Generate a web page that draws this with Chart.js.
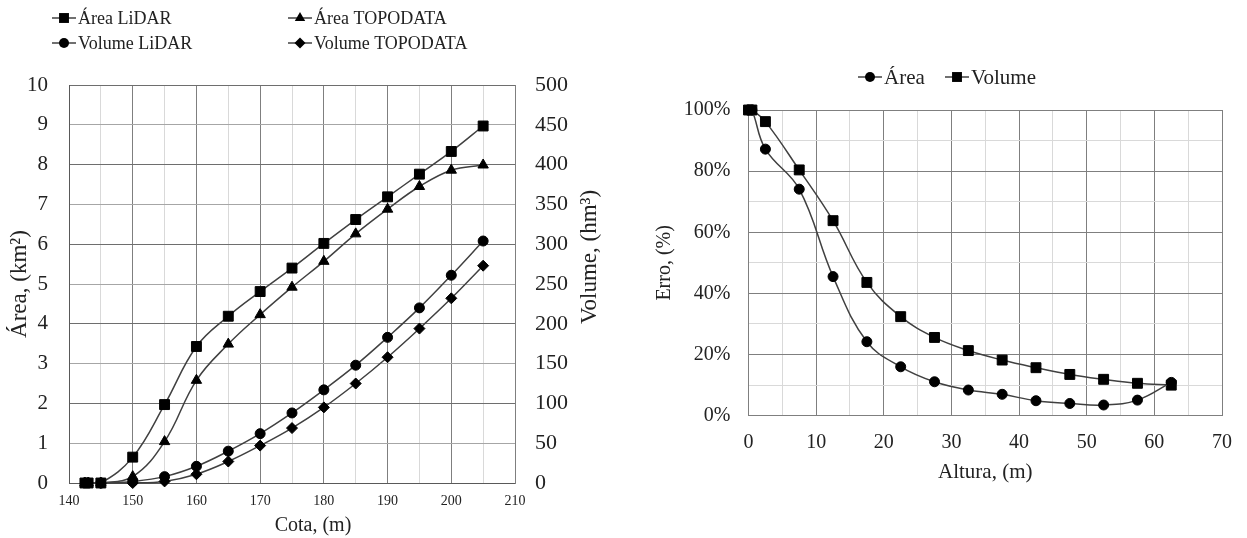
<!DOCTYPE html>
<html>
<head>
<meta charset="utf-8">
<script src="https://cdn.jsdelivr.net/npm/chart.js@4.4.1/dist/chart.umd.min.js"></script>
<style>
    body { margin: 0; background: #fff; }
    #wrap { position: relative; width: 1247px; height: 538px; }
    canvas { position: absolute; top: 0; }
    #cotaChart { left: 0; }
    #alturaChart { left: 620px; }
</style>
</head>
<body>
<div id="wrap">
    <canvas id="cotaChart" width="620" height="538"></canvas>
    <canvas id="alturaChart" width="627" height="538"></canvas>
</div>
<script>
// left chart: area / volume by elevation
const cota = [142.5, 143, 145, 150, 155, 160, 165, 170, 175, 180, 185, 190, 195, 200, 205];
const areaLidar = [0, 0, 0, 0.65, 1.97, 3.43, 4.19, 4.81, 5.40, 6.02, 6.62, 7.19, 7.76, 8.33, 8.97];
const areaTopodata = [0, 0, 0, 0.16, 1.04, 2.58, 3.49, 4.23, 4.92, 5.57, 6.26, 6.88, 7.45, 7.86, 7.99];
const volumeLidar = [null, null, 0, 2, 8, 21, 40, 62, 88, 117, 148, 183, 220, 261, 304];
const volumeTopodata = [null, null, 0, 0, 2, 11, 27, 47, 69, 95, 125, 158, 194, 232, 273];

// right chart: error by height
const altura = [0, 0.5, 2.5, 7.5, 12.5, 17.5, 22.5, 27.5, 32.5, 37.5, 42.5, 47.5, 52.5, 57.5, 62.5];
const erroArea = [100, 100, 87.2, 74.1, 45.5, 24.2, 16.0, 11.1, 8.4, 7.0, 4.9, 4.0, 3.5, 5.1, 10.9];
const erroVolume = [100, 100, 96.2, 80.4, 63.8, 43.6, 32.4, 25.6, 21.3, 18.2, 15.7, 13.5, 11.9, 10.6, 10.0];

const serif = "'Liberation Serif', 'Times New Roman', serif";
const lineColor = '#404040';
const majorGrid = '#7f7f7f';
const minorGrid = '#d9d9d9';

Chart.defaults.font.family = serif;
Chart.defaults.color = '#222';

const toPoints = (xs, ys) => xs.map((x, i) => ({ x: x, y: ys[i] }));

function drawMarker(ctx, style, x, y, r) {
    ctx.beginPath();
    if (style === 'rect') {
        const s = r * Math.SQRT1_2;
        ctx.rect(x - s, y - s, 2 * s, 2 * s);
    } else if (style === 'circle') {
        ctx.arc(x, y, r, 0, Math.PI * 2);
    } else if (style === 'triangle') {
        for (let k = 0; k < 3; k++) {
            const a = k * 2 * Math.PI / 3;
            const px = x + Math.sin(a) * r, py = y - Math.cos(a) * r;
            if (k === 0) ctx.moveTo(px, py); else ctx.lineTo(px, py);
        }
        ctx.closePath();
    } else if (style === 'rectRot') {
        ctx.moveTo(x, y - r);
        ctx.lineTo(x + r, y);
        ctx.lineTo(x, y + r);
        ctx.lineTo(x - r, y);
        ctx.closePath();
    }
    ctx.fillStyle = '#000';
    ctx.fill();
}

// legend drawn by hand so the entries line up in columns
const boxLegend = {
    id: 'boxLegend',
    afterDraw(chart, args, opts) {
        const ctx = chart.ctx;
        ctx.save();
        ctx.font = opts.size + 'px ' + serif;
        ctx.textBaseline = 'middle';
        ctx.textAlign = 'left';
        opts.items.forEach(it => {
            const ds = chart.data.datasets[it.index];
            ctx.strokeStyle = lineColor;
            ctx.lineWidth = 1.5;
            ctx.beginPath();
            ctx.moveTo(it.x, it.y);
            ctx.lineTo(it.x + 24, it.y);
            ctx.stroke();
            drawMarker(ctx, ds.pointStyle, it.x + 12, it.y, ds.pointRadius);
            ctx.fillStyle = '#222';
            ctx.fillText(ds.label, it.x + 26, it.y + 1);
        });
        ctx.restore();
    }
};

const freeTitles = {
    id: 'freeTitles',
    afterDraw(chart, args, opts) {
        const ctx = chart.ctx;
        opts.items.forEach(t => {
            ctx.save();
            ctx.font = t.size + 'px ' + serif;
            ctx.fillStyle = '#222';
            ctx.textAlign = 'center';
            ctx.textBaseline = 'middle';
            ctx.translate(t.x, t.y);
            ctx.rotate(t.rot || 0);
            ctx.fillText(t.text, 0, 0);
            ctx.restore();
        });
    }
};

const lineDefaults = {
    borderColor: lineColor,
    borderWidth: 1.5,
    backgroundColor: '#000',
    pointBackgroundColor: '#000',
    pointBorderColor: '#000',
    pointBorderWidth: 1,
    tension: 0.4,
    clip: false
};

new Chart(document.getElementById('cotaChart'), {
    type: 'line',
    data: {
        datasets: [
            { ...lineDefaults, label: 'Área LiDAR', data: toPoints(cota, areaLidar), pointStyle: 'rect', pointRadius: 7, yAxisID: 'y' },
            { ...lineDefaults, label: 'Área TOPODATA', data: toPoints(cota, areaTopodata), pointStyle: 'triangle', pointRadius: 6, yAxisID: 'y' },
            { ...lineDefaults, label: 'Volume LiDAR', data: toPoints(cota, volumeLidar), pointStyle: 'circle', pointRadius: 5, yAxisID: 'y1' },
            { ...lineDefaults, label: 'Volume TOPODATA', data: toPoints(cota, volumeTopodata), pointStyle: 'rectRot', pointRadius: 5.5, yAxisID: 'y1' }
        ]
    },
    options: {
        responsive: false,
        devicePixelRatio: 1,
        animation: false,
        layout: { padding: { top: 85, left: 0, right: 0, bottom: 0 } },
        plugins: {
            legend: { display: false },
            tooltip: { enabled: false },
            boxLegend: {
                size: 18,
                items: [
                    { index: 0, x: 52, y: 18 },
                    { index: 1, x: 288, y: 18 },
                    { index: 2, x: 52, y: 43 },
                    { index: 3, x: 288, y: 43 }
                ]
            },
            freeTitles: {
                items: [
                    { text: 'Cota, (m)', x: 313, y: 526, size: 20 },
                    { text: 'Volume, (hm³)', x: 590, y: 257, size: 23, rot: -Math.PI / 2 }
                ]
            }
        },
        scales: {
            x: {
                type: 'linear',
                min: 140,
                max: 210,
                afterFit: s => { s.height = 55; },
                ticks: {
                    stepSize: 5,
                    autoSkip: false,
                    maxRotation: 0,
                    padding: 10,
                    font: { size: 14 },
                    callback: v => (v % 10 === 0 ? v : '')
                },
                grid: {
                    drawTicks: false,
                    color: c => (c.tick && c.tick.value % 10 === 0 ? majorGrid : minorGrid)
                },
                border: { color: '#595959' }
            },
            y: {
                position: 'left',
                min: 0,
                max: 10,
                afterFit: s => { s.width = 69; },
                ticks: { stepSize: 1, padding: 21, font: { size: 21 } },
                grid: {
                    drawTicks: false,
                    color: c => (c.tick && c.tick.value % 2 === 0 ? '#6e6e6e' : '#a6a6a6')
                },
                border: { color: '#595959' },
                title: { display: true, text: 'Área, (km²)', font: { size: 23 }, padding: { top: 6, bottom: 0 } }
            },
            y1: {
                position: 'right',
                min: 0,
                max: 500,
                afterFit: s => { s.width = 105; },
                ticks: { stepSize: 50, padding: 20, font: { size: 22 } },
                grid: { drawOnChartArea: false, drawTicks: false },
                border: { color: '#7f7f7f' }
            }
        }
    },
    plugins: [boxLegend, freeTitles]
});

new Chart(document.getElementById('alturaChart'), {
    type: 'line',
    data: {
        datasets: [
            { ...lineDefaults, label: 'Área', data: toPoints(altura, erroArea), pointStyle: 'circle', pointRadius: 5 },
            { ...lineDefaults, label: 'Volume', data: toPoints(altura, erroVolume), pointStyle: 'rect', pointRadius: 7 }
        ]
    },
    options: {
        responsive: false,
        devicePixelRatio: 1,
        animation: false,
        layout: { padding: { top: 110, left: 0, right: 10.7, bottom: 40 } },
        plugins: {
            legend: { display: false },
            tooltip: { enabled: false },
            boxLegend: {
                size: 21,
                items: [
                    { index: 0, x: 238, y: 77 },
                    { index: 1, x: 325, y: 77 }
                ]
            }
        },
        scales: {
            x: {
                type: 'linear',
                min: 0,
                max: 70,
                afterFit: s => { s.height = 82.3; },
                ticks: {
                    stepSize: 5,
                    autoSkip: false,
                    maxRotation: 0,
                    padding: 15,
                    font: { size: 20 },
                    callback: v => (v % 10 === 0 ? v : '')
                },
                grid: {
                    drawTicks: false,
                    color: c => (c.tick && c.tick.value % 10 === 0 ? majorGrid : minorGrid)
                },
                border: { color: '#7f7f7f' },
                title: { display: true, text: 'Altura, (m)', font: { size: 21 }, padding: { top: 0, bottom: 13 } }
            },
            y: {
                min: 0,
                max: 100,
                afterFit: s => { s.width = 128.5; },
                ticks: {
                    stepSize: 10,
                    autoSkip: false,
                    padding: 18,
                    font: { size: 20 },
                    callback: v => (v % 20 === 0 ? v + '%' : '')
                },
                grid: {
                    drawTicks: false,
                    color: c => (c.tick && c.tick.value % 20 === 0 ? majorGrid : minorGrid)
                },
                border: { color: '#7f7f7f' },
                title: { display: true, text: 'Erro, (%)', font: { size: 20 }, padding: { top: 33, bottom: 0 } }
            }
        }
    },
    plugins: [boxLegend]
});
</script>
</body>
</html>
